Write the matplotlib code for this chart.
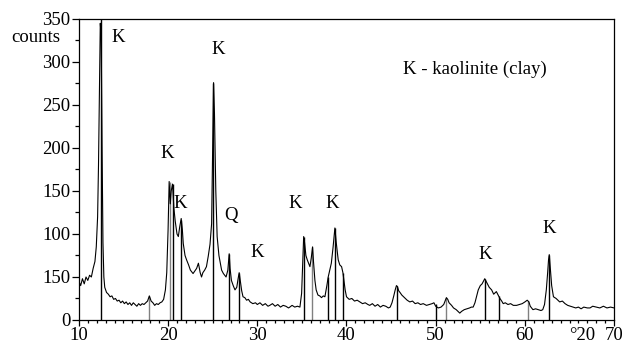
import numpy as np
import matplotlib
matplotlib.use("Agg")
import matplotlib.pyplot as plt
from matplotlib.ticker import MultipleLocator

# measured XRD pattern (2theta in degrees, counts)
two_theta = [
    10.0, 10.2, 10.4, 10.6, 10.8, 11.0, 11.2, 11.4, 11.6, 11.8, 11.95, 12.1, 12.2, 12.3, 12.4, 12.5,
    12.6, 12.7, 12.8, 12.9, 13.1, 13.3, 13.5, 13.7, 13.9, 14.1, 14.3, 14.5, 14.7, 14.9, 15.1, 15.3,
    15.5, 15.7, 15.9, 16.1, 16.3, 16.5, 16.7, 16.9, 17.1, 17.3, 17.5, 17.7, 17.9, 18.1, 18.3, 18.5,
    18.7, 18.9, 19.1, 19.3, 19.5, 19.7, 19.85, 20.0, 20.12, 20.25, 20.35, 20.5, 20.65, 20.8, 21.0,
    21.15, 21.3, 21.47, 21.6, 21.7, 21.9, 22.07, 22.3, 22.5, 22.8, 23.0, 23.2, 23.4, 23.6, 23.75,
    23.9, 24.1, 24.3, 24.5, 24.7, 24.88, 25.0, 25.1, 25.2, 25.35, 25.5, 25.7, 26.0, 26.2, 26.5,
    26.7, 26.85, 26.95, 27.1, 27.3, 27.5, 27.7, 27.85, 27.97, 28.1, 28.25, 28.4, 28.6, 28.8, 29.0,
    29.2, 29.5, 29.8, 30.0, 30.3, 30.6, 30.9, 31.2, 31.4, 31.7, 32.0, 32.3, 32.6, 32.9, 33.2, 33.5,
    33.65, 33.9, 34.2, 34.5, 34.78, 34.97, 35.1, 35.2, 35.3, 35.45, 35.6, 35.75, 35.9, 36.05, 36.2,
    36.3, 36.46, 36.6, 36.8, 37.0, 37.2, 37.4, 37.58, 37.8, 37.95, 38.1, 38.3, 38.5, 38.7, 38.85,
    39.07, 39.25, 39.45, 39.6, 39.7, 39.85, 40.0, 40.3, 40.6, 40.9, 41.2, 41.5, 41.8, 42.1, 42.4,
    42.6, 42.9, 43.2, 43.5, 43.8, 44.1, 44.4, 44.7, 44.9, 45.1, 45.3, 45.46, 45.6, 45.7, 45.85,
    46.0, 46.2, 46.4, 46.6, 46.8, 47.1, 47.4, 47.7, 48.0, 48.3, 48.6, 48.97, 49.3, 49.6, 49.8, 50.0,
    50.3, 50.6, 50.9, 51.05, 51.2, 51.35, 51.5, 51.78, 52.0, 52.3, 52.5, 52.7, 52.9, 53.2, 53.5,
    53.8, 54.0, 54.2, 54.4, 54.6, 54.77, 55.0, 55.2, 55.35, 55.5, 55.65, 55.8, 56.0, 56.27, 56.5,
    56.8, 57.0, 57.2, 57.4, 57.57, 57.8, 58.1, 58.4, 58.7, 59.07, 59.4, 59.7, 60.0, 60.26, 60.45,
    60.6, 60.9, 61.2, 61.5, 61.8, 62.0, 62.2, 62.4, 62.55, 62.65, 62.73, 62.85, 63.0, 63.2, 63.5,
    63.9, 64.2, 64.5, 64.8, 65.1, 65.4, 65.7, 66.0, 66.3, 66.6, 67.0, 67.3, 67.6, 68.0, 68.4, 68.8,
    69.2, 69.6, 70.0,
]
counts = [
    45, 40, 48, 42, 50, 46, 52, 50, 60, 68, 85, 120, 180, 260, 345, 330,
    200, 90, 50, 38, 32, 30, 27, 28, 24, 25, 22, 23, 20, 22, 19, 21,
    18, 20, 17, 20, 18, 16, 19, 17, 19, 18, 20, 22, 28, 22, 20, 17,
    19, 18, 20, 21, 24, 35, 55, 105, 161, 135, 150, 158, 130, 115, 100,
    97, 108, 118, 105, 89, 75, 70, 64, 58, 54, 57, 60, 66, 55, 50,
    55, 58, 62, 74, 88, 112, 200, 276, 240, 150, 97, 75, 58, 54, 50,
    58, 77, 60, 46, 40, 35, 38, 48, 55, 45, 34, 27, 26, 23, 24,
    21, 19, 20, 18, 20, 17, 19, 16, 17, 19, 16, 18, 15, 17, 16, 14,
    15, 17, 15, 16, 15, 31, 70, 97, 90, 75, 70, 66, 62, 72, 85,
    68, 46, 35, 29, 28, 26, 28, 27, 40, 50, 57, 66, 85, 107, 90,
    70, 64, 62, 55, 47, 35, 27, 24, 25, 22, 23, 21, 19, 20, 18,
    17, 19, 16, 18, 15, 17, 16, 14, 15, 20, 28, 35, 40, 39, 34,
    32, 29, 27, 25, 23, 21, 22, 19, 20, 18, 19, 17, 18, 19, 20, 16,
    14, 15, 18, 22, 26, 24, 20, 17, 14, 12, 10, 8, 10, 12, 13,
    14, 15, 15, 20, 28, 35, 40, 42, 45, 48, 45, 42, 38, 35, 30,
    33, 29, 25, 22, 19, 20, 18, 19, 17, 17, 18, 19, 21, 23, 21,
    16, 12, 13, 12, 11, 12, 18, 35, 55, 70, 76, 60, 40, 27, 25,
    21, 22, 19, 17, 16, 15, 14, 15, 13, 15, 14, 14, 16, 15, 14, 16,
    14, 15, 14,
]

# reference stick lines (peak positions and heights)
stick_pos = [12.43, 17.9, 20.2, 20.57, 21.4, 25.06, 26.85, 27.97, 35.26, 36.15,
             37.95, 38.73, 39.56, 45.68, 49.99, 51.2, 55.54, 57.1, 60.37, 62.75]
stick_height = [350, 28, 161, 158, 116, 276, 77, 55, 97, 85,
                50, 107, 55, 40, 19, 26, 48, 28, 22, 76]
stick_gray = [False, True, True, False, False, False, False, False, False, True,
              False, False, False, False, False, True, False, False, True, False]

# peak labels
label_x = [14.37, 25.58, 19.87, 21.4, 27.0, 29.95, 34.2, 38.36, 55.6, 62.7]
label_y = [329, 314, 194, 136, 122, 78, 136, 136, 76, 106]
label_text = ["K", "K", "K", "K", "Q", "K", "K", "K", "K", "K"]

yticks = [0, 50, 100, 150, 200, 250, 300, 350]
ytick_labels = ["0", "150", "100", "150", "200", "250", "300", "350"]
xticks = [10, 20, 30, 40, 50, 60, 70]

plt.rcParams['font.family'] = ['Liberation Serif', 'DejaVu Serif']
plt.rcParams['font.size'] = 13.5

fig = plt.figure(figsize=(6.26, 3.48), dpi=100)
ax = fig.add_axes([0.126, 0.0805, 0.855, 0.865])

for x, h, g in zip(stick_pos, stick_height, stick_gray):
    ax.vlines(x, 0, h, color='0.5' if g else 'black', linewidth=1.0)

ax.plot(two_theta, counts, color='black', linewidth=0.8)

for x, y, t in zip(label_x, label_y, label_text):
    ax.text(x, y, t, ha='center', va='center')

ax.text(54.4, 292, "K - kaolinite (clay)", ha='center', va='center')
fig.text(36 / 626, 1 - 37 / 348, "counts", ha='center', va='center')
ax.text(66.4, -8, "°20", ha='center', va='top')

ax.set_xlim(10, 70)
ax.set_ylim(0, 350)
ax.set_xticks(xticks)
ax.set_yticks(yticks)
ax.set_yticklabels(ytick_labels)
ax.xaxis.set_minor_locator(MultipleLocator(1))
ax.yaxis.set_minor_locator(MultipleLocator(25))
ax.tick_params(axis='both', which='major', labelsize=13.5)
ax.tick_params(axis='x', which='major', direction='out', length=4, width=0.9, pad=1)
ax.tick_params(axis='x', which='minor', direction='out', length=2.5, width=0.9)
ax.tick_params(axis='y', which='major', direction='out', length=5, width=0.9, pad=1)
ax.tick_params(axis='y', which='minor', direction='out', length=3, width=0.9)
for s in ax.spines.values():
    s.set_linewidth(0.9)

fig.savefig("out.png", dpi=100)
